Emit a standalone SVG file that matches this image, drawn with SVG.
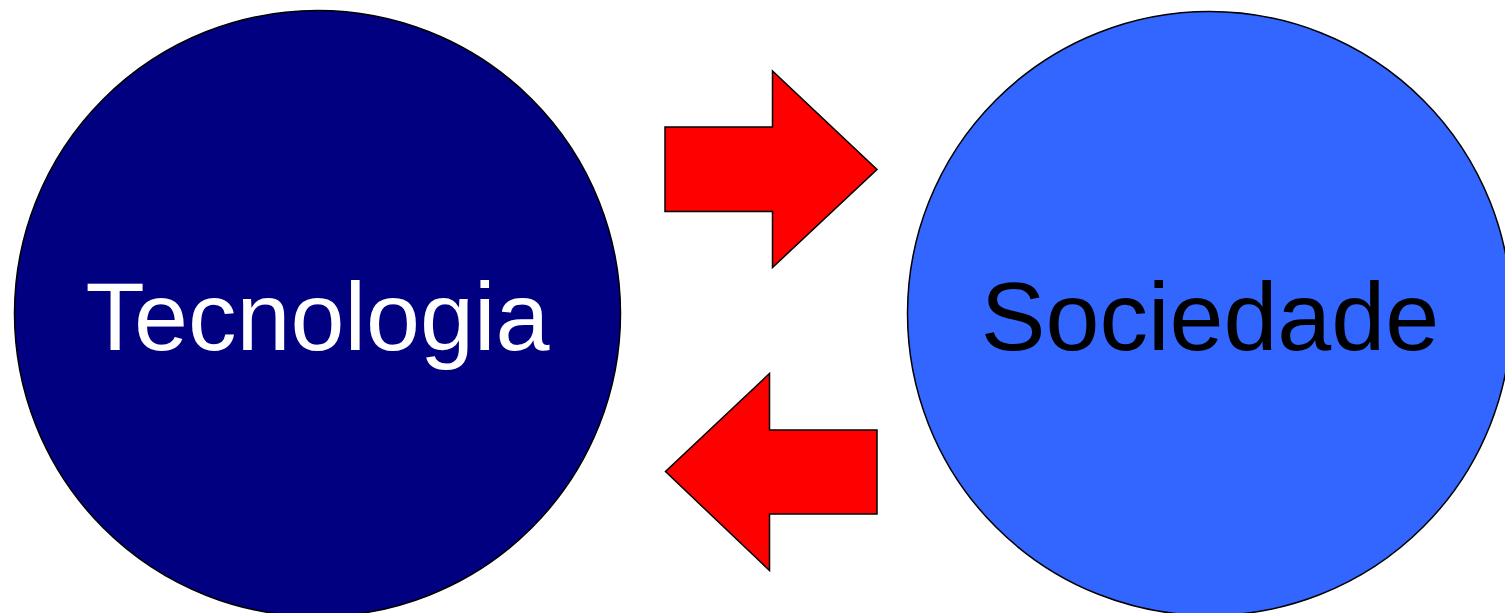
<svg xmlns="http://www.w3.org/2000/svg" width="1505" height="613" viewBox="0 0 1505 613">
<style>
.node circle{stroke:#000;stroke-width:1.5}
.lbl{font-family:"Liberation Sans",Arial,sans-serif;font-size:97px;text-anchor:middle}
.arrow{fill:#ff0000;stroke:#000;stroke-width:1.5;stroke-linejoin:miter}
</style>
<rect width="1505" height="613" fill="#fff"/>
<g id="tecnologia" class="node">
<circle cx="317.5" cy="313.5" r="303" fill="#000080"/>
<text class="lbl" x="317.5" y="350" fill="#fff">Tecnologia</text>
</g>
<g id="sociedade" class="node">
<circle cx="1209.5" cy="313.5" r="302" fill="#3366ff"/>
<text class="lbl" x="1210" y="350" fill="#000">Sociedade</text>
</g>
<g id="connectors">
<polygon class="arrow" points="665,127 772.5,127 772.5,71 877,169.5 772.5,267.5 772.5,211.5 665,211.5"/>
<polygon class="arrow" points="877,430 769.5,430 769.5,373.5 665.5,471.5 769.5,570.5 769.5,514 877,514"/>
</g>
</svg>
